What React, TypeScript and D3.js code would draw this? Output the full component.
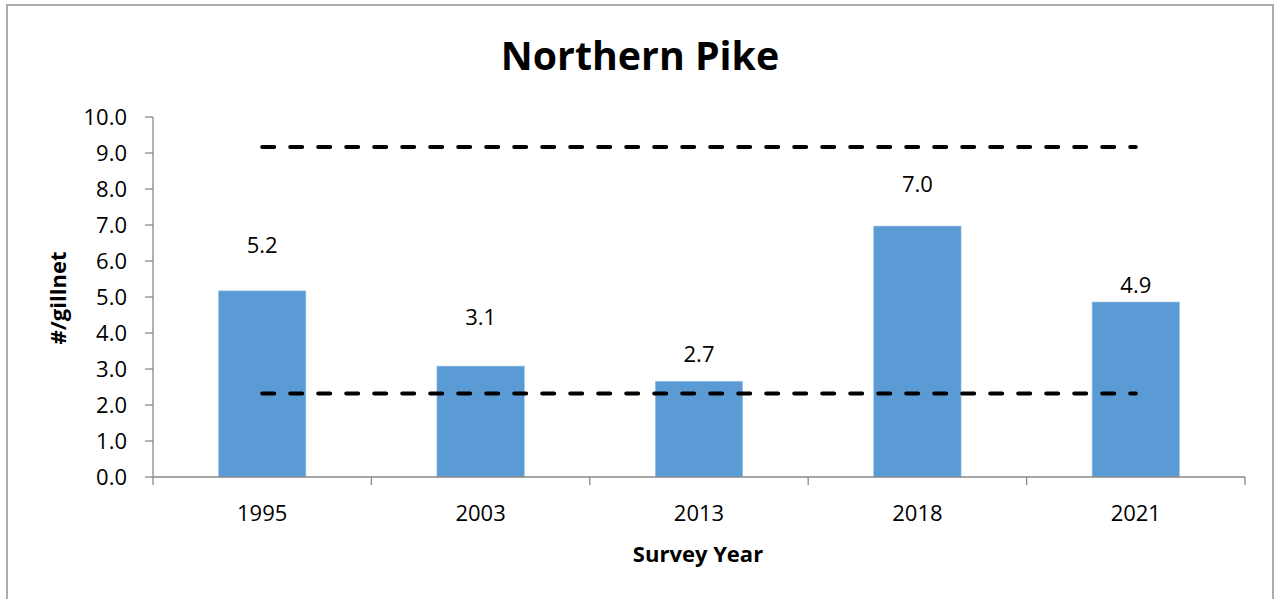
import React from "react";
import * as d3 from "d3";

const categories = ["1995", "2003", "2013", "2018", "2021"];
const values = [5.17, 3.08, 2.66, 6.97, 4.86];
const upperLine = [9.17, 9.17, 9.17, 9.17, 9.17];
const lowerLine = [2.32, 2.32, 2.32, 2.32, 2.32];
const yTicks = [0, 1, 2, 3, 4, 5, 6, 7, 8, 9, 10];
// label baseline offsets above bar tops (px), as placed in the original
const labelOffsets = [38, 41, 19, 34, 9];

const W = 1276;
const H = 599;
const M = { left: 153, right: 1245, top: 117, bottom: 477 };
const FONT = "'Open Sans', 'Noto Sans', sans-serif";

export default function App() {
  const xOuter = d3.scaleBand<string>().domain(categories).range([M.left, M.right]);
  const y = d3.scaleLinear().domain([0, 10]).range([M.bottom, M.top]);
  const fmt = d3.format(".1f");
  const center = (c: string) => (xOuter(c) as number) + xOuter.bandwidth() / 2;
  const barW = xOuter.bandwidth() * 0.4;
  const line = d3
    .line<number>()
    .x((_, i) => center(categories[i]))
    .y((d) => y(d));
  const axisColor = "#898989";
  const tickXs = [...categories.map((c) => xOuter(c) as number), M.right];

  return (
    <svg
      width={W}
      height={H}
      style={{ position: "absolute", left: 0, top: 0, background: "#fff" }}
      fontFamily={FONT}
    >
      <rect x={7} y={5} width={1266} height={620} fill="#fff" stroke="#ADADAD" strokeWidth={2} />
      <text x={640} y={70} textAnchor="middle" fontSize={39.3} fontWeight="bold" fill="#000">
        Northern Pike
      </text>

      {/* bars */}
      {categories.map((c, i) => (
        <rect
          key={c}
          x={center(c) - barW / 2}
          y={y(values[i])}
          width={barW}
          height={y(0) - y(values[i])}
          fill="#5B9BD5"
          stroke="#9DC3E6"
          strokeWidth={0.6}
        />
      ))}

      {/* y axis */}
      <line x1={M.left} x2={M.left} y1={M.top} y2={M.bottom} stroke={axisColor} strokeWidth={1.3} />
      {yTicks.map((t) => (
        <g key={t}>
          <line x1={M.left - 8} x2={M.left} y1={y(t)} y2={y(t)} stroke={axisColor} strokeWidth={1.3} />
          <text x={127} y={y(t)} dy="0.36em" textAnchor="end" fontSize={22} fill="#000">
            {fmt(t)}
          </text>
        </g>
      ))}

      {/* x axis */}
      <line x1={M.left} x2={M.right} y1={M.bottom} y2={M.bottom} stroke={axisColor} strokeWidth={1.6} />
      {tickXs.map((tx, i) => (
        <line key={i} x1={tx} x2={tx} y1={M.bottom} y2={M.bottom + 8} stroke={axisColor} strokeWidth={1.3} />
      ))}
      {categories.map((c) => (
        <text key={c} x={center(c)} y={520.5} textAnchor="middle" fontSize={22} fill="#000">
          {c}
        </text>
      ))}

      {/* dashed reference lines */}
      <path d={line(upperLine) as string} fill="none" stroke="#000" strokeWidth={4} strokeDasharray="12 16" strokeLinecap="round" />
      <path d={line(lowerLine) as string} fill="none" stroke="#000" strokeWidth={4} strokeDasharray="12 16" strokeLinecap="round" />

      {/* data labels */}
      {categories.map((c, i) => (
        <text key={c} x={center(c)} y={y(values[i]) - labelOffsets[i]} textAnchor="middle" fontSize={22} fill="#000">
          {fmt(values[i])}
        </text>
      ))}

      {/* axis titles */}
      <text x={698} y={562} textAnchor="middle" fontSize={22} fontWeight="bold" fill="#000">
        Survey Year
      </text>
      <text
        transform={`translate(${66},${298}) rotate(-90)`}
        textAnchor="middle"
        fontSize={22}
        fontWeight="bold"
        fill="#000"
      >
        #/gillnet
      </text>
    </svg>
  );
}
